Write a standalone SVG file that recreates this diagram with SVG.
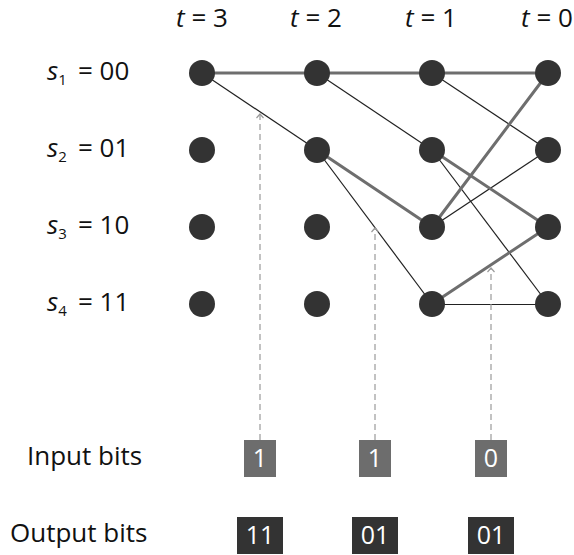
<svg xmlns="http://www.w3.org/2000/svg" width="574" height="555" viewBox="0 0 574 555">
<style>
text{font-family:"Open Sans","Noto Sans","Liberation Sans",sans-serif;fill:#111}
.lbl{font-size:26px}
.sub{font-size:15px}
.it{font-style:italic}
.node{fill:#333}
.thick{stroke:#6e6e6e;stroke-width:3;fill:none;stroke-linecap:round}
.thin{stroke:#222;stroke-width:1.2;fill:none}
.dash{stroke:#9a9a9a;stroke-width:1.2;stroke-dasharray:6 4;fill:none}
.inbox{fill:#6d6d6d}
.outbox{fill:#333}
.bt{font-size:25px;fill:#fff;text-anchor:middle}
</style>
<defs>
<marker id="ah" markerUnits="userSpaceOnUse" markerWidth="12" markerHeight="12" refX="6" refY="6" orient="auto" overflow="visible">
<path d="M2,2.5 L6,6 L2,9.5" fill="none" stroke="#9a9a9a" stroke-width="1.2"/>
</marker>
</defs>
<g id="time-labels">
<text class="lbl" x="202" y="27" text-anchor="middle"><tspan class="it">t</tspan> = 3</text>
<text class="lbl" x="316" y="27" text-anchor="middle"><tspan class="it">t</tspan> = 2</text>
<text class="lbl" x="431" y="27" text-anchor="middle"><tspan class="it">t</tspan> = 1</text>
<text class="lbl" x="547" y="27" text-anchor="middle"><tspan class="it">t</tspan> = 0</text>
</g>
<g id="state-labels">
<text class="lbl" x="47" y="80"><tspan class="it">s</tspan><tspan class="sub" dy="5">1</tspan><tspan x="78" dy="-5">= 00</tspan></text>
<text class="lbl" x="47" y="157"><tspan class="it">s</tspan><tspan class="sub" dy="5">2</tspan><tspan x="78" dy="-5">= 01</tspan></text>
<text class="lbl" x="47" y="234"><tspan class="it">s</tspan><tspan class="sub" dy="5">3</tspan><tspan x="78" dy="-5">= 10</tspan></text>
<text class="lbl" x="47" y="311"><tspan class="it">s</tspan><tspan class="sub" dy="5">4</tspan><tspan x="78" dy="-5">= 11</tspan></text>
</g>
<g id="connectors">
<line class="thin" x1="202" y1="73" x2="317" y2="150"/>
<line class="thin" x1="317" y1="73" x2="432" y2="150"/>
<line class="thin" x1="432" y1="73" x2="548" y2="150"/>
<line class="thin" x1="317" y1="150" x2="432" y2="304"/>
<line class="thin" x1="432" y1="227" x2="548" y2="150"/>
<line class="thin" x1="432" y1="150" x2="548" y2="304"/>
<line class="thin" x1="432" y1="304.5" x2="548" y2="304.5"/>
<line class="thick" x1="202" y1="73" x2="548" y2="73"/>
<line class="thick" x1="317" y1="150" x2="432" y2="227"/>
<line class="thick" x1="432" y1="227" x2="548" y2="73"/>
<line class="thick" x1="432" y1="150" x2="548" y2="227"/>
<line class="thick" x1="432" y1="304" x2="548" y2="227"/>
<line class="dash" x1="260" y1="440" x2="260" y2="114" marker-end="url(#ah)"/>
<line class="dash" x1="375" y1="440" x2="375" y2="228" marker-end="url(#ah)"/>
<line class="dash" x1="491" y1="440" x2="491" y2="268" marker-end="url(#ah)"/>
</g>
<g id="nodes">
<g id="n-s1-t3"><circle class="node" cx="202" cy="73" r="13"/></g>
<g id="n-s2-t3"><circle class="node" cx="202" cy="150" r="13"/></g>
<g id="n-s3-t3"><circle class="node" cx="202" cy="227" r="13"/></g>
<g id="n-s4-t3"><circle class="node" cx="202" cy="304" r="13"/></g>
<g id="n-s1-t2"><circle class="node" cx="317" cy="73" r="13"/></g>
<g id="n-s2-t2"><circle class="node" cx="317" cy="150" r="13"/></g>
<g id="n-s3-t2"><circle class="node" cx="317" cy="227" r="13"/></g>
<g id="n-s4-t2"><circle class="node" cx="317" cy="304" r="13"/></g>
<g id="n-s1-t1"><circle class="node" cx="432" cy="73" r="13"/></g>
<g id="n-s2-t1"><circle class="node" cx="432" cy="150" r="13"/></g>
<g id="n-s3-t1"><circle class="node" cx="432" cy="227" r="13"/></g>
<g id="n-s4-t1"><circle class="node" cx="432" cy="304" r="13"/></g>
<g id="n-s1-t0"><circle class="node" cx="548" cy="73" r="13"/></g>
<g id="n-s2-t0"><circle class="node" cx="548" cy="150" r="13"/></g>
<g id="n-s3-t0"><circle class="node" cx="548" cy="227" r="13"/></g>
<g id="n-s4-t0"><circle class="node" cx="548" cy="304" r="13"/></g>
</g>
<g id="bit-labels">
<text class="lbl" x="27" y="465">Input bits</text>
<text class="lbl" x="10" y="542">Output bits</text>
</g>
<g id="input-bits">
<g id="in1"><rect class="inbox" x="244" y="440" width="32" height="37"/><text class="bt" x="260" y="467">1</text></g>
<g id="in2"><rect class="inbox" x="359" y="440" width="32" height="37"/><text class="bt" x="375" y="467">1</text></g>
<g id="in3"><rect class="inbox" x="475" y="440" width="32" height="37"/><text class="bt" x="491" y="467">0</text></g>
</g>
<g id="output-bits">
<g id="out1"><rect class="outbox" x="237" y="517" width="46" height="37"/><text class="bt" x="260" y="544">11</text></g>
<g id="out2"><rect class="outbox" x="352" y="517" width="46" height="37"/><text class="bt" x="375" y="544">01</text></g>
<g id="out3"><rect class="outbox" x="468" y="517" width="46" height="37"/><text class="bt" x="491" y="544">01</text></g>
</g>
</svg>
